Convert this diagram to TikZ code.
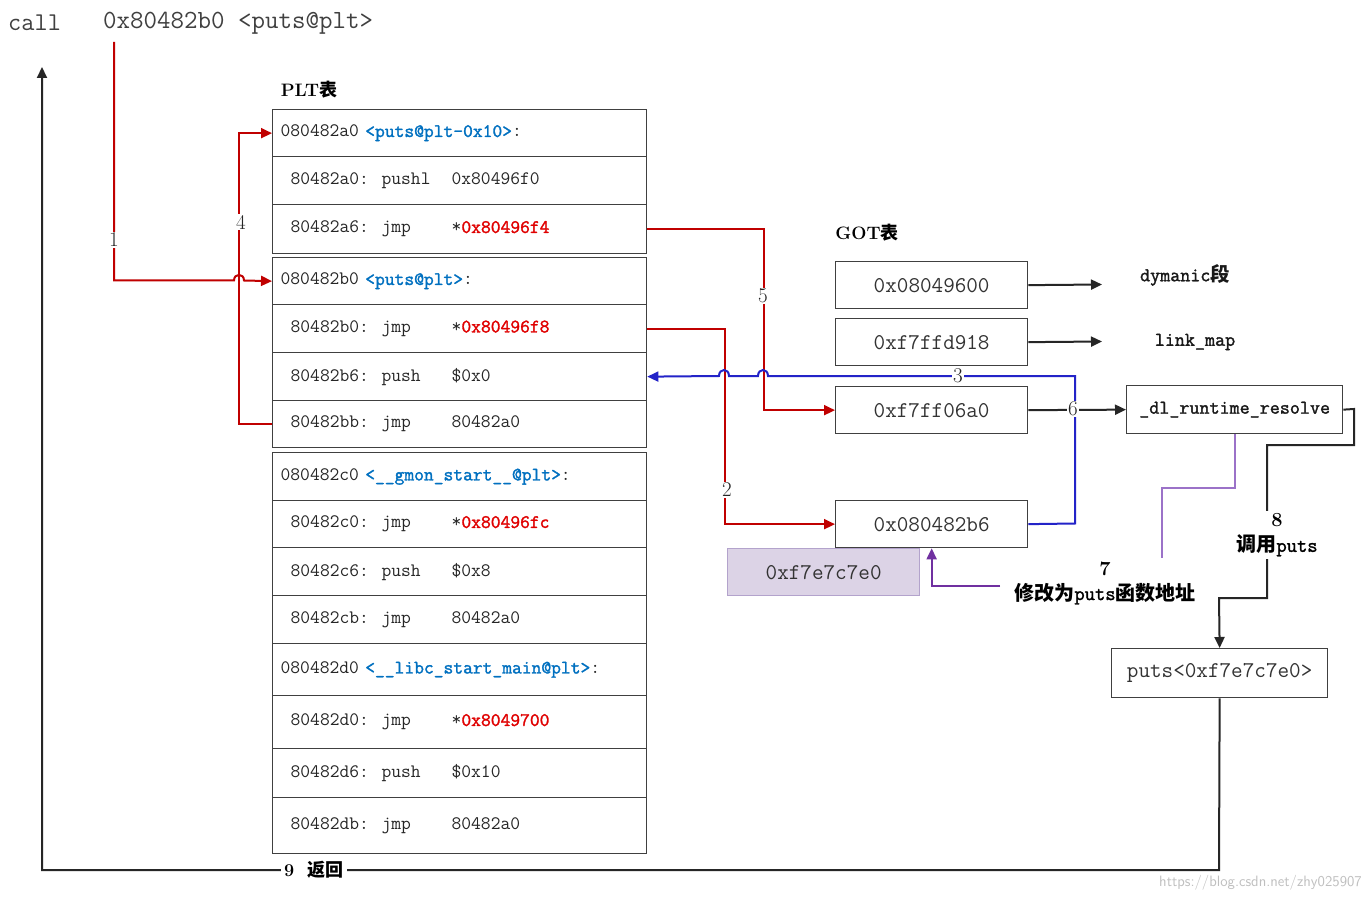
\documentclass[tikz,border=0pt]{standalone}
\usepackage{fontspec}
\newfontfamily\cjk{Noto Sans CJK SC}
\newfontfamily\ttb{Latin Modern Mono}[FakeBold=1.6]
\usetikzlibrary{arrows.meta}
\definecolor{rl}{HTML}{C00000}
\definecolor{rt}{HTML}{E00000}
\definecolor{bt}{HTML}{0070C0}
\definecolor{bl}{HTML}{2323C8}
\definecolor{pl}{HTML}{7030A0}
\definecolor{plb}{HTML}{9B72C8}
\definecolor{pf}{HTML}{DCD3E6}
\definecolor{pb}{HTML}{B3A3CC}
\newcommand\ins[3]{\hspace*{10pt}\makebox[91pt][l]{#1:}\makebox[70pt][l]{#2}#3}
\newcommand\hd[2]{#1 {\color{bt}\ttb #2}:}
\newcommand\rd[1]{*{\color{rt}\ttb #1}}
\begin{document}
\begin{tikzpicture}[x=1pt,y=-1pt,
  cell/.style={draw=black!75,line width=1.3pt,anchor=north west,inner ysep=0pt,inner xsep=8pt,
    text width=358pt,align=left,font=\ttfamily\fontsize{19}{23}\selectfont,text=black!85},
  gbox/.style={draw=black!75,line width=1.3pt,anchor=north west,minimum width=192pt,minimum height=47pt,
    inner sep=0pt,font=\ttfamily\fontsize{22.5}{26}\selectfont,text=black!80},
  redl/.style={draw=rl,line width=2pt,-{Triangle[length=11pt,width=10pt]}},
  blkl/.style={draw=black!85,line width=2pt,-{Triangle[length=11pt,width=10pt]}},
  numl/.style={fill=white,inner xsep=1.5pt,inner ysep=1pt,font=\rmfamily\fontsize{21}{24}\selectfont,text=black!85},
  bl8/.style={font=\ttb\fontsize{19.5}{23}\selectfont,text=black!90}
]
\useasboundingbox[fill=white] (0,0) rectangle (1371,901);

% top call line
\node[anchor=west,inner sep=0pt,font=\ttfamily\fontsize{25.6}{30}\selectfont,text=black!75] (call) at (8,23) {call};
\node[anchor=west,inner sep=0pt,font=\ttfamily\fontsize{26.2}{30}\selectfont,text=black!75] (target) at (103,23) {0x80482b0 <puts@plt>};
\coordinate (c1) at (114,42);
\coordinate (ret) at (42,67);

% labels
\node[font=\rmfamily\bfseries\fontsize{18}{22}\selectfont] (pltl) at (309,90) {PLT{\cjk\bfseries 表}};
\node[font=\rmfamily\bfseries\fontsize{18}{22}\selectfont] (gotl) at (867,233) {GOT{\cjk\bfseries 表}};

% PLT rows
\node[cell,minimum height=47pt] (r1) at (272,109) {\hd{080482a0}{<puts@plt-0x10>}};
\node[cell,minimum height=48pt] (r2) at (272,156) {\ins{80482a0}{pushl}{0x80496f0}};
\node[cell,minimum height=49pt] (r3) at (272,204) {\ins{80482a6}{jmp}{\rd{0x80496f4}}};
\node[cell,minimum height=47pt] (r4) at (272,257) {\hd{080482b0}{<puts@plt>}};
\node[cell,minimum height=48pt] (r5) at (272,304) {\ins{80482b0}{jmp}{\rd{0x80496f8}}};
\node[cell,minimum height=48pt] (r6) at (272,352) {\ins{80482b6}{push}{\$0x0}};
\node[cell,minimum height=47pt] (r7) at (272,400) {\ins{80482bb}{jmp}{80482a0}};
\node[cell,minimum height=48pt] (r8) at (272,452) {\hd{080482c0}{<\_\_gmon\_start\_\_@plt>}};
\node[cell,minimum height=47pt] (r9) at (272,500) {\ins{80482c0}{jmp}{\rd{0x80496fc}}};
\node[cell,minimum height=48pt] (r10) at (272,547) {\ins{80482c6}{push}{\$0x8}};
\node[cell,minimum height=48pt] (r11) at (272,595) {\ins{80482cb}{jmp}{80482a0}};
\node[cell,minimum height=52pt] (r12) at (272,643) {\hd{080482d0}{<\_\_libc\_start\_main@plt>}};
\node[cell,minimum height=53pt] (r13) at (272,695) {\ins{80482d0}{jmp}{\rd{0x8049700}}};
\node[cell,minimum height=49pt] (r14) at (272,748) {\ins{80482d6}{push}{\$0x10}};
\node[cell,minimum height=56pt] (r15) at (272,797) {\ins{80482db}{jmp}{80482a0}};

% GOT boxes
\node[gbox] (g1) at (835,261) {0x08049600};
\node[gbox] (g2) at (835,318) {0xf7ffd918};
\node[gbox] (g3) at (835,386) {0xf7ff06a0};
\node[gbox] (g4) at (835,500) {0x080482b6};
\node[gbox,fill=pf,draw=pb] (pv) at (727,548) {0xf7e7c7e0};

\node[gbox,minimum width=216pt,minimum height=48pt,font=\ttb\fontsize{19.5}{23}\selectfont,text=black!90] (dl) at (1126,385) {\_dl\_runtime\_resolve};
\node[gbox,minimum width=216pt,minimum height=49pt] (puts) at (1111,648) {puts<0xf7e7c7e0>};

\node[bl8] (dym) at (1185,275) {dymanic{\cjk\bfseries 段}};
\node[bl8] (lmap) at (1195,342) {link\_map};

% arrow 1
\draw[redl] (c1) -- (114,280.5) -- (234,280.5) .. controls (234,273) and (244,273) .. (244,280.5) -- (r4.west);
\node[numl] (n1) at (114,240) {1};
% arrow 4
\draw[redl] (r7.west) -- ++(-33,0) |- (r1.west);
\node[numl] (n4) at (241,222) {4};
% arrow 5
\draw[redl] (r3.east) -- ++(117,0) |- (g3.west);
\node[numl] (n5) at (763,296) {5};
% arrow 2
\draw[redl] (r5.east) -- ++(78,0) |- (g4.west);
\node[numl] (n2) at (727,490) {2};
% arrow 3
\draw[draw=bl,line width=2pt,-{Triangle[length=11pt,width=10pt]}] (g4.east) -- (1075,523.5) -- (1075,376)
  -- (768,376) .. controls (768,368) and (758,368) .. (758,376)
  -- (729,376) .. controls (729,368) and (719,368) .. (719,376) -- (r6.east);
\node[numl] (n3) at (958,376) {3};
% GOT -> targets
\draw[blkl] (g1.east) -- (1102,284.5);
\draw[blkl] (g2.east) -- (1102,341.5);
\draw[blkl] (g3.east) -- (dl.west);
\node[numl] (n6) at (1073,409) {6};
% 7
\coordinate (p7) at (1162,558);
\coordinate (p7b) at (1000,586);
\draw[draw=plb,line width=2pt] (dl.south) -- ++(0,54) -| (p7);
\draw[draw=pl,line width=2pt,-{Triangle[length=11pt,width=10pt]}] (p7b) -| (g4.south);
\node[align=center,inner sep=0pt,font=\rmfamily\bfseries\fontsize{20}{25}\selectfont] (l7) at (1105,583)
  {7\\{\cjk\bfseries 修改为}{\ttb puts}{\cjk\bfseries 函数地址}};
% 8
\draw[blkl] (dl.east) -- (1354,409) -- (1354,445) -- (1267,445) -- (1267,598) -- (1219,598) -- (puts.north);
\node[align=center,fill=white,inner xsep=2pt,inner ysep=3pt,font=\rmfamily\bfseries\fontsize{20}{25}\selectfont] (l8) at (1277,535)
  {8\\{\cjk\bfseries 调用}{\ttb puts}};
% 9
\draw[blkl] (puts.south) -- (1219,870) -- (42,870) -- (ret);
\node[fill=white,inner sep=3pt,font=\rmfamily\bfseries\fontsize{18}{22}\selectfont] (l9) at (314,870) {9\ \ {\cjk\bfseries 返回}};

\node[anchor=east,inner sep=0pt,text=black!25,font=\sffamily\fontsize{15}{18}\selectfont] (wm) at (1362,883) {https://blog.csdn.net/zhy025907};
\end{tikzpicture}
\end{document}
